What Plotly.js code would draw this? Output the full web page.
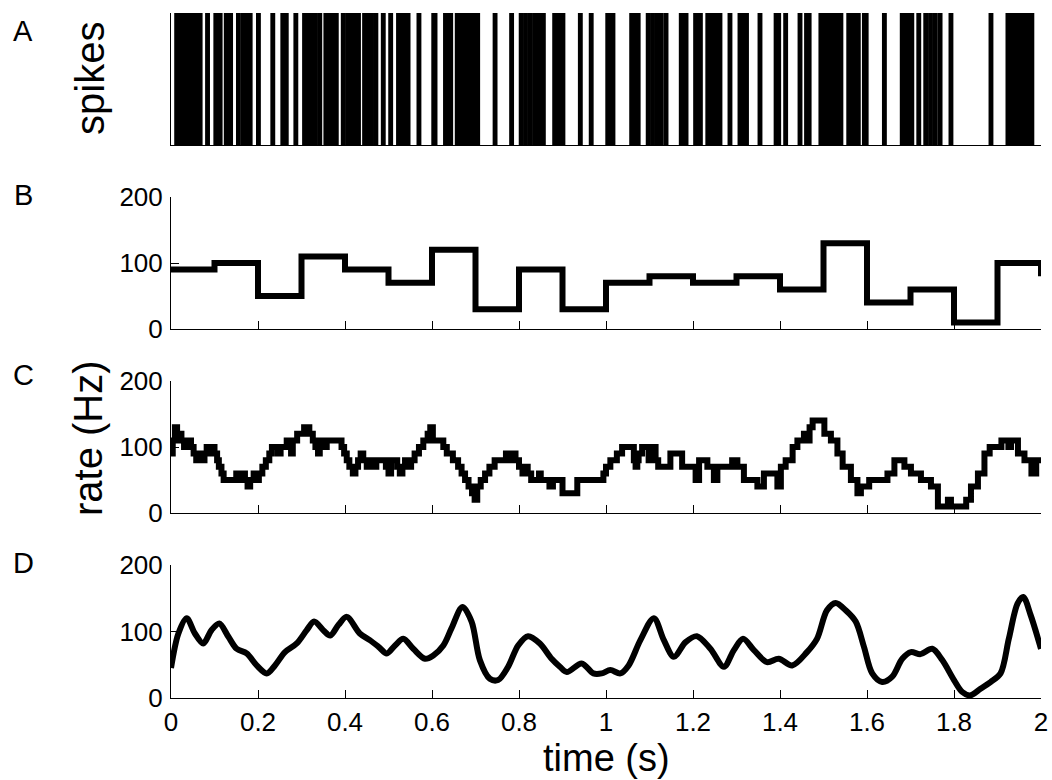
<!DOCTYPE html>
<html><head><meta charset="utf-8">
<script src="https://cdn.plot.ly/plotly-3.0.1.min.js"></script>
<style>html,body{margin:0;padding:0;background:#fff}</style>
</head><body><div id="chart" style="width:1052px;height:780px"></div>
<script>
// ---- data ----
const spikeTimes = [0.013,0.021,0.030,0.036,0.045,0.051,0.060,0.067,0.084,
0.103,0.108,0.113,0.127,0.132,0.137,0.155,0.166,0.172,0.182,
0.201,0.234,0.257,0.265,0.287,
0.307,0.316,0.324,0.332,0.342,0.356,0.363,0.368,0.374,0.380,0.396,
0.406,0.414,0.422,0.431,0.445,0.454,0.461,0.471,0.488,
0.505,0.523,0.530,0.535,0.540,0.545,0.570,
0.604,0.607,0.631,0.637,0.643,0.658,0.665,0.672,0.678,0.685,0.692,0.698,
0.705,0.745,0.783,
0.805,0.815,0.826,0.836,0.846,0.856,0.882,0.890,0.897,
0.901,0.941,0.966,
1.004,1.009,1.016,1.059,1.066,1.074,1.097,
1.107,1.118,1.127,1.138,1.173,1.177,1.181,1.184,
1.206,1.217,1.234,1.243,1.252,1.262,1.285,
1.308,1.314,1.319,1.323,1.354,1.391,1.395,1.397,
1.413,1.446,1.461,1.467,1.494,1.497,
1.503,1.512,1.522,1.531,1.540,1.558,1.565,1.569,1.574,1.580,1.594,1.597,1.598,
1.640,1.681,1.688,1.696,
1.703,1.719,1.735,1.746,1.757,1.768,1.793,
1.885,
1.924,1.930,1.936,1.943,1.950,1.957,1.963,1.969,1.974,1.979];

const binStarts = [0,0.1,0.2,0.3,0.4,0.5,0.6,0.7,0.8,0.9,1.0,1.1,1.2,1.3,1.4,1.5,1.6,1.7,1.8,1.9,2.0];
const binRates  = [90,100,50,110,90,70,120,30,90,30,70,80,70,80,60,130,40,60,10,100,80];

const slideTime = [0,0.004,0.009,0.014,0.020,0.024,0.030,0.040,0.046,0.052,0.058,0.066,0.070,0.077,0.082,0.088,0.094,0.100,0.106,0.110,0.116,0.121,0.150,0.156,0.164,0.170,0.176,0.182,0.190,0.194,0.202,0.210,0.218,0.226,0.232,0.246,0.252,0.266,0.272,0.276,0.280,0.290,0.306,0.318,0.326,0.332,0.338,0.342,0.352,0.358,0.392,0.398,0.404,0.410,0.418,0.424,0.430,0.436,0.442,0.450,0.458,0.466,0.472,0.494,0.500,0.506,0.520,0.526,0.532,0.538,0.548,0.552,0.560,0.570,0.580,0.590,0.596,0.602,0.626,0.634,0.648,0.660,0.668,0.676,0.684,0.692,0.698,0.704,0.712,0.722,0.732,0.744,0.770,0.776,0.786,0.792,0.800,0.808,0.814,0.820,0.828,0.846,0.850,0.870,0.878,0.900,0.934,0.994,1.000,1.010,1.025,1.037,1.064,1.068,1.072,1.075,1.083,1.098,1.106,1.114,1.120,1.148,1.175,1.206,1.214,1.233,1.248,1.256,1.290,1.302,1.317,1.348,1.363,1.394,1.402,1.413,1.429,1.440,1.455,1.463,1.468,1.475,1.502,1.517,1.532,1.544,1.563,1.578,1.586,1.605,1.647,1.663,1.686,1.701,1.724,1.747,1.763,1.786,1.793,1.828,1.839,1.855,1.870,1.882,1.909,1.925,1.931,1.947,1.962,1.978,1.989,2.000];
const slideRate = [90,110,130,110,120,110,100,110,100,90,80,90,80,90,100,90,100,90,80,70,60,50,60,50,60,50,40,50,60,50,60,70,80,90,100,90,100,110,100,90,110,120,130,120,110,100,90,110,100,110,100,90,80,70,60,70,80,90,80,70,80,70,80,70,60,80,70,60,70,80,70,80,90,100,110,120,130,110,100,90,80,70,60,50,40,30,20,40,50,60,70,80,90,80,90,80,70,60,70,60,50,60,50,40,50,30,50,60,70,80,90,100,80,70,80,90,100,80,100,80,70,90,70,50,80,70,50,70,80,70,50,40,60,40,70,80,100,110,120,110,130,140,120,110,90,70,50,30,40,50,60,80,70,60,50,40,10,20,10,20,40,60,90,100,110,100,110,90,80,60,80,80];

const smoothTime = [0,0.017,0.036,0.055,0.074,0.093,0.111,0.132,0.151,0.174,0.197,0.220,0.239,0.262,0.289,0.312,0.329,0.350,0.366,0.385,0.404,0.434,0.457,0.477,0.496,0.515,0.534,0.557,0.584,0.603,0.626,0.645,0.670,0.691,0.710,0.733,0.752,0.775,0.798,0.821,0.848,0.875,0.894,0.910,0.944,0.971,0.990,1.010,1.033,1.052,1.079,1.110,1.133,1.156,1.183,1.209,1.240,1.271,1.294,1.315,1.340,1.370,1.397,1.428,1.462,1.485,1.508,1.528,1.551,1.574,1.593,1.612,1.635,1.658,1.681,1.701,1.723,1.750,1.773,1.800,1.819,1.838,1.861,1.884,1.907,1.926,1.946,1.959,1.976,2.000];
const smoothRate = [45,97,120,97,82,102,112,92,74,67,49,37,49,69,82,102,115,102,94,110,122,97,87,77,67,79,89,74,59,64,79,105,137,115,57,29,27,47,79,93,82,59,47,39,52,37,37,42,37,49,87,120,87,62,84,93,74,47,72,89,72,54,59,49,69,89,132,143,132,115,77,37,24,32,59,69,66,74,57,27,9,4,14,24,37,89,142,152,125,74];

const xTicks = [0,0.2,0.4,0.6,0.8,1,1.2,1.4,1.6,1.8,2];
const rateTicks = [0,100,200];
const panelLetters = ['A','B','C','D'];
const titles = {spikes:'spikes', rate:'rate (Hz)', time:'time (s)'};

// ---- layout geometry ----
const W=1052,H=780,L=171,R=11,T=13,B=82;
const px = x => (x-L)/(W-L-R);
const py = y => (H-B-y)/(H-T-B);
const FONT = 'Liberation Sans, Arial, Helvetica, sans-serif';

const traces = [
  {type:'bar', x:spikeTimes, y:spikeTimes.map(()=>1), width:0.0112,
   marker:{color:'#000', line:{width:0}}, xaxis:'x', yaxis:'y', hoverinfo:'x'},
  {type:'scatter', mode:'lines', x:binStarts, y:binRates, line:{shape:'hv', color:'#000', width:6},
   xaxis:'x2', yaxis:'y2'},
  {type:'scatter', mode:'lines', x:slideTime, y:slideRate, line:{shape:'hv', color:'#000', width:6},
   xaxis:'x3', yaxis:'y3'},
  {type:'scatter', mode:'lines', x:smoothTime, y:smoothRate, line:{shape:'spline', smoothing:0.9, color:'#000', width:6},
   xaxis:'x4', yaxis:'y4'}
];

function xax(anchor, labels, ticks){
  return {anchor:anchor, domain:[0,1], range:[0,2], tickvals: ticks?xTicks:[],
    ticks: ticks?'inside':'', ticklen:8, tickwidth:1, tickcolor:'#000',
    showticklabels:labels, tickfont:{size:26, family:FONT, color:'#000'}, ticklabelstandoff:1,
    showline:true, linecolor:'#000', linewidth:1, showgrid:false, zeroline:false, fixedrange:true};
}
function yax(anchor, dom){
  return {anchor:anchor, domain:dom, range:[0,200], tickvals:rateTicks,
    ticks:'inside', ticklen:8, tickwidth:1, tickcolor:'#000',
    tickfont:{size:26, family:FONT, color:'#000'}, ticklabelstandoff:2,
    showline:true, linecolor:'#000', linewidth:1, showgrid:false, zeroline:false, fixedrange:true};
}

const ann = [];
const letterY = [31,195,375,563];
panelLetters.forEach((t,i)=>ann.push({text:t, xref:'paper', yref:'paper', x:px(23), y:py(letterY[i]),
  xanchor:'center', yanchor:'middle', showarrow:false, font:{size:29, family:FONT, color:'#000'}}));
ann.push({text:titles.spikes, xref:'paper', yref:'paper', x:px(90), y:py(79), textangle:-90,
  xanchor:'center', yanchor:'middle', showarrow:false, font:{size:40, family:FONT, color:'#000'}});
ann.push({text:titles.rate, xref:'paper', yref:'paper', x:px(88), y:py(438), textangle:-90,
  xanchor:'center', yanchor:'middle', showarrow:false, font:{size:40, family:FONT, color:'#000'}});
ann.push({text:titles.time, xref:'paper', yref:'paper', x:px(606), y:py(757.5),
  xanchor:'center', yanchor:'middle', showarrow:false, font:{size:38, family:FONT, color:'#000'}});

const layout = {
  width:W, height:H, margin:{l:L, r:R, t:T, b:B, pad:0},
  paper_bgcolor:'#fff', plot_bgcolor:'#fff', showlegend:false,
  font:{family:FONT, color:'#000'},
  xaxis: xax('y', false, false),
  yaxis: {anchor:'x', domain:[py(145),1], range:[0,1], showticklabels:false, ticks:'',
          showline:true, linecolor:'#000', linewidth:1, showgrid:false, zeroline:false, fixedrange:true},
  xaxis2: xax('y2', false, true),
  yaxis2: yax('x2', [py(329), py(197)]),
  xaxis3: xax('y3', false, true),
  yaxis3: yax('x3', [py(513), py(381)]),
  xaxis4: xax('y4', true, true),
  yaxis4: yax('x4', [0, py(565)]),
  annotations: ann
};

Plotly.newPlot('chart', traces, layout, {staticPlot:true, displayModeBar:false});
</script>
</body></html>
